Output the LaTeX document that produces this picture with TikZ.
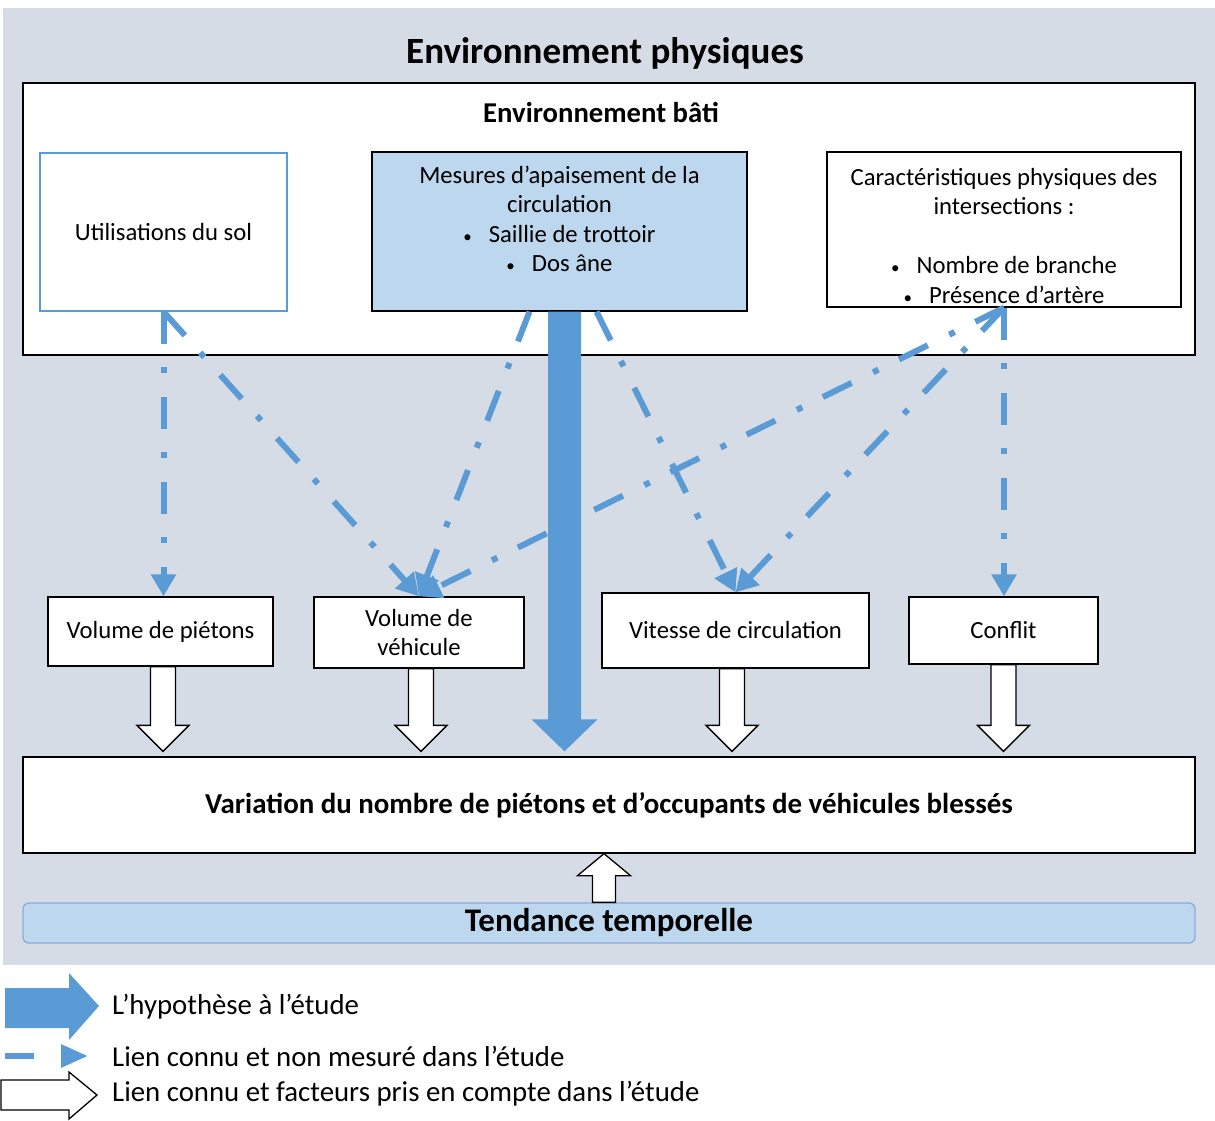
\documentclass[tikz,border=0pt]{standalone}
\usepackage{fontspec}
\setmainfont{Carlito}
\usetikzlibrary{positioning,calc,arrows.meta}

\definecolor{fondgris}{HTML}{D6DCE5}
\definecolor{bleu}{HTML}{5B9BD5}
\definecolor{bleuclair}{HTML}{BDD7EE}
\definecolor{bordtend}{HTML}{8EA9DB}

% grosse fleche verticale : style, depart, pointe, demi-fut, demi-tete, long. tete
\newcommand{\grossefleche}[6][]{%
  \draw[#1] let \p1=(#2), \p2=(#3), \n1={(\y1>\y2)?1:-1} in
    (\x1-#4,\y1) -- (\x1-#4,\y2+\n1*#6) -- (\x1-#5,\y2+\n1*#6) -- (\x1,\y2)
    -- (\x1+#5,\y2+\n1*#6) -- (\x1+#4,\y2+\n1*#6) -- (\x1+#4,\y1) -- cycle;}
\newcommand{\puce}{{\fontsize{17}{17}\selectfont\textbullet}\hspace{17pt}}

\begin{document}
\begin{tikzpicture}[
x=1pt,y=-1pt,
boite/.style={
  draw=black,
  line width=1.3pt,
  fill=white,
  inner sep=0pt,
  align=center,
  font=\fontsize{24.7}{29.5}\selectfont
  },
titre/.style={font=\fontsize{37}{42}\selectfont\bfseries},
soustitre/.style={font=\fontsize{28.7}{32}\selectfont\bfseries},
legende/.style={anchor=west, inner sep=0pt, font=\fontsize{28.8}{32}\selectfont},
lien/.style={
  bleu,
  line width=6pt,
  dash pattern=on 32pt off 23pt on 6pt off 24pt,
  -{Triangle[length=22pt,width=24pt]}
  },
creuse/.style={draw=black, line width=1.3pt, fill=white},
pleine/.style={draw=none, fill=bleu}
]
\useasboundingbox (0,0) rectangle (1215,1121);
\fill[fondgris] (3,8) rectangle (1215,965);

\node[titre] (physique) at (605,53) {Environnement physiques};
\node[boite, minimum width=1172pt, minimum height=272pt] (bati) at (609,219) {};
\node[soustitre] (batititre) at (601,113) {Environnement bâti};

\node[boite, draw=bleu, minimum width=247pt, minimum height=158pt] (sol) at (163.5,232)
  {Utilisations du sol};
\node[boite, fill=bleuclair, minimum width=375pt, minimum height=159pt] (mes) at (559.5,231.5)
  {Mesures d’apaisement de la\\circulation\\\puce Saillie de trottoir\\
   \puce Dos âne\\[-4pt]\mbox{}};
\node[boite, minimum width=354pt, minimum height=155pt] (car) at (1004,229.5)
  {\rule{0pt}{30pt}Caractéristiques physiques des\\intersections :\\\mbox{}\\
   \puce Nombre de branche\\\puce Présence d’artère};

\node[boite, minimum width=225pt, minimum height=69pt] (vp) at (160.5,631.5) {Volume de piétons};
\node[boite, minimum width=210pt, minimum height=71pt] (vv) at (419,632.5) {Volume de\\véhicule};
\node[boite, minimum width=267pt, minimum height=75pt] (vc) at (735.5,630.5) {Vitesse de circulation};
\node[boite, minimum width=189pt, minimum height=67pt] (cf) at (1003.5,630.5) {Conflit};

\node[boite, minimum width=1172pt, minimum height=96pt, font=\fontsize{28.9}{32}\selectfont\bfseries]
  (var) at (609,805) {Variation du nombre de piétons et d’occupants de véhicules blessés};
\node[boite, fill=bleuclair, draw=bordtend, rounded corners=6pt, minimum width=1172pt,
  minimum height=40pt, font=\fontsize{33}{36}\selectfont\bfseries] (tend) at (609,923)
  {Tendance temporelle};

% liens connus non mesures
\draw[lien] (sol.south) -- (sol.south |- vp.north);
\draw[lien] ([xshift=-30pt]mes.south) -- (vv.north);
\draw[lien] ([xshift=37pt]mes.south) -- (vc.north);
\draw[lien] (car.south) -- (car.south |- cf.north);
\foreach \de/\vers in {sol.south/vv.north,car.south/vv.north,car.south/vc.north}
  \draw[lien] (\de) -- (\vers);

% hypothese
\grossefleche[pleine]{[xshift=5pt]mes.south}{[xshift=5pt,yshift=5pt]mes.south |- var.north}{16.5}{33}{32}
% facteurs pris en compte
\foreach \b/\dx in {vp/2.5,vv/2,vc/-3.5,cf/0}
  {\grossefleche[creuse]{[xshift=\dx pt]\b.south}{[xshift=\dx pt,yshift=5pt]\b.south |- var.north}{12.5}{26}{26}}
\grossefleche[creuse]{[xshift=-5pt]tend.north}{[xshift=-5pt]var.south}{11.5}{26.5}{22}

% legende
\fill[bleu] (5,988) -- (69,988) -- (69,973) -- (99,1006) -- (69,1040) -- (69,1028) -- (5,1028) -- cycle;
\draw[bleu, line width=6pt, dash pattern=on 29pt off 40pt, -{Triangle[length=27pt,width=22pt]}]
  (5,1056) -- (88,1056);
\draw[creuse] (1,1080) -- (69,1080) -- (69,1072) -- (97,1095) -- (69,1119) -- (69,1110) -- (1,1110) -- cycle;
\node[legende] (hyp) at (112,1007) {L’hypothèse à l’étude};
\node[legende] (nonmes) at (112,1056) {Lien connu et non mesuré dans l’étude};
\node[legende] (pris) at (112,1094) {Lien connu et facteurs pris en compte dans l’étude};
\end{tikzpicture}
\end{document}
